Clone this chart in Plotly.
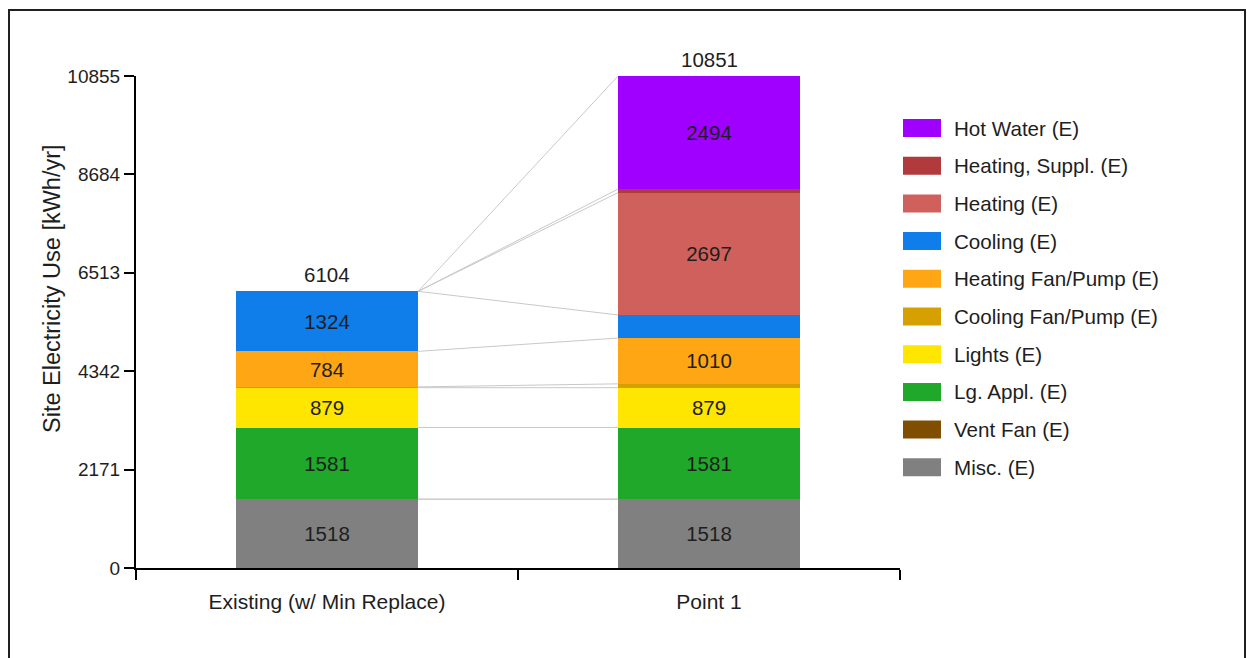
import plotly.graph_objects as go

# ---------------- data ----------------
categories = ["Existing (w/ Min Replace)", "Point 1"]
series_names = ["Misc. (E)", "Vent Fan (E)", "Lg. Appl. (E)", "Lights (E)",
                "Cooling Fan/Pump (E)", "Heating Fan/Pump (E)", "Cooling (E)",
                "Heating (E)", "Heating, Suppl. (E)", "Hot Water (E)"]
series_colors = ["#808080", "#7F4E00", "#1FA82A", "#FFE600",
                 "#D6A000", "#FFA614", "#0F7DEA",
                 "#D0605C", "#B03A3C", "#A000FF"]
misc = [1518, 1518]
vent_fan = [0, 0]
lg_appl = [1581, 1581]
lights = [879, 879]
cooling_fan = [18, 85]
heating_fan = [784, 1010]
cooling = [1324, 510]
heating = [0, 2697]
heating_suppl = [0, 77]
hot_water = [0, 2494]
totals = [6104, 10851]
y_ticks = [0, 2171, 4342, 6513, 8684, 10855]
y_title = "Site Electricity Use [kWh/yr]"

series_values = [misc, vent_fan, lg_appl, lights, cooling_fan, heating_fan,
                 cooling, heating, heating_suppl, hot_water]

# ---------------- layout helpers ----------------
W, H = 1247, 658
L, R, T, B = 136, 900, 76, 568
BAR_W = 0.477
FONT = "Liberation Sans, Arial, sans-serif"
TXT = "#1e1e1e"


def px_x(px):
    return (px - L) / (R - L)


def px_y(py):
    return (B - py) / (B - T)


fig = go.Figure()

for name, color, vals in zip(series_names, series_colors, series_values):
    fig.add_trace(go.Bar(
        x=categories, y=vals, name=name, width=BAR_W,
        marker=dict(color=color, line=dict(width=0)),
        text=[str(v) if v >= 700 else "" for v in vals],
        textposition="inside", insidetextanchor="middle",
        constraintext="none",
        textfont=dict(family=FONT, size=20.5, color=TXT),
        hoverinfo="name+y", showlegend=False,
    ))

# connector lines between segment tops
cum = [0, 0]
for vals in series_values:
    cum = [cum[0] + vals[0], cum[1] + vals[1]]
    fig.add_trace(go.Scatter(
        x=[0 + BAR_W / 2, 1 - BAR_W / 2], y=[cum[0], cum[1]],
        xaxis="x2", mode="lines",
        line=dict(color="#c8c8c8", width=1),
        hoverinfo="skip", showlegend=False,
    ))

# totals above bars
for c, t in zip(categories, totals):
    fig.add_annotation(x=c, y=t, text=str(t), showarrow=False,
                       yanchor="bottom", yshift=3,
                       font=dict(family=FONT, size=20.5, color=TXT))

# custom legend (top = last series)
row0, row_step = 128, 37.7
for i, (name, color) in enumerate(zip(series_names[::-1], series_colors[::-1])):
    cy = row0 + i * row_step
    fig.add_shape(type="rect", xref="paper", yref="paper",
                  x0=px_x(903), x1=px_x(941), y0=px_y(cy + 9), y1=px_y(cy - 9),
                  fillcolor=color, line=dict(width=0))
    fig.add_annotation(xref="paper", yref="paper", x=px_x(952), y=px_y(cy),
                       text=name, showarrow=False, xanchor="left", yanchor="middle",
                       font=dict(family=FONT, size=20.6, color=TXT))

# y-axis title
fig.add_annotation(xref="paper", yref="paper", x=px_x(52), y=px_y(289),
                   text=y_title, textangle=-90, showarrow=False,
                   xanchor="center", yanchor="middle",
                   font=dict(family=FONT, size=23.5, color=TXT))

# outer frame
fig.add_shape(type="rect", xref="paper", yref="paper",
              x0=px_x(9), x1=px_x(1245), y0=px_y(700), y1=px_y(10),
              line=dict(color="#202020", width=2), fillcolor="rgba(0,0,0,0)",
              layer="below")

fig.update_layout(
    width=W, height=H,
    margin=dict(l=L, r=W - R, t=T, b=H - B, pad=0),
    paper_bgcolor="white", plot_bgcolor="white",
    barmode="stack", showlegend=False,
    font=dict(family=FONT, size=19, color=TXT),
    xaxis=dict(type="category", range=[-0.5, 1.5], tickson="boundaries",
               ticks="outside", ticklen=10, tickwidth=1.5, tickcolor="#000",
               ticklabelstandoff=14,
               showline=True, linecolor="#000", linewidth=2,
               showgrid=False, zeroline=False,
               tickfont=dict(family=FONT, size=21, color=TXT)),
    xaxis2=dict(overlaying="x", range=[-0.5, 1.5], visible=False),
    yaxis=dict(range=[0, 10855], tickvals=y_ticks,
               ticktext=[str(v) for v in y_ticks],
               ticks="outside", ticklen=10, tickwidth=1.5, tickcolor="#000",
               showline=True, linecolor="#000", linewidth=2,
               showgrid=False, zeroline=False,
               tickfont=dict(family=FONT, size=19, color=TXT)),
)

fig.write_html("out.html")
